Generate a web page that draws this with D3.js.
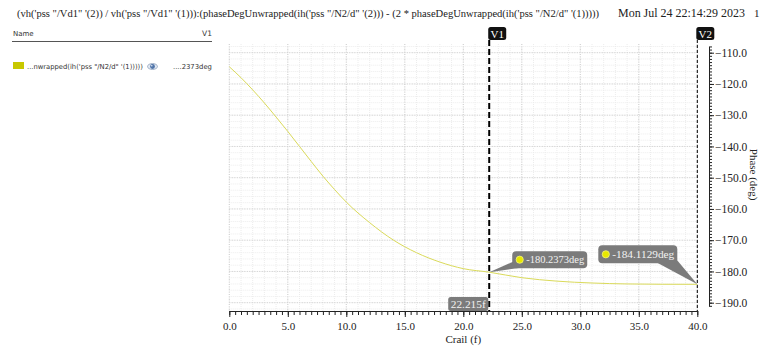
<!DOCTYPE html>
<html>
<head>
<meta charset="utf-8">
<script src="https://cdn.jsdelivr.net/npm/d3@7"></script>
<style>
  html, body { margin: 0; padding: 0; background: #fff; }
  svg { display: block; }
</style>
</head>
<body>
<svg id="chart" width="761" height="347"></svg>
<script>
// Sweep variable (Crail, fF) and the unwrapped phase difference (deg)
const crail = [0, 1, 2, 3, 4, 5, 6, 7, 8, 9, 10, 12, 14, 16, 18, 20, 22.215, 25, 28, 31, 34, 37, 40];
const phase = [-114.5, -118.0, -121.9, -126.1, -130.6, -135.2, -140.0, -144.8, -149.5, -153.8, -157.8,
               -164.4, -169.9, -174.0, -177.0, -179.1, -180.2373, -182.0, -183.1, -183.7, -184.0, -184.1, -184.1129];

// Vertical cursors and their readouts
const cursorNames = ["V1", "V2"];
const cursorX = [22.215, 40];
const cursorReadouts = ["-180.2373deg", "-184.1129deg"];
const cursorXLabel = "22.215f";

// Axis ticks
const xMajorTicks = [0, 5, 10, 15, 20, 25, 30, 35, 40];
const yMajorTicks = [-110, -120, -130, -140, -150, -160, -170, -180, -190];

// Header, legend and axis texts
const titleText = "(vh('pss \"/Vd1\" '(2)) / vh('pss \"/Vd1\" '(1))):(phaseDegUnwrapped(ih('pss \"/N2/d\" '(2))) - (2 * phaseDegUnwrapped(ih('pss \"/N2/d\" '(1)))))";
const dateText = "Mon Jul 24 22:14:29 2023";
const legendName = "...nwrapped(ih('pss \"/N2/d\" '(1)))))";
const legendValue = "....2373deg";
const xTitle = "Crail (f)";
const yTitle = "Phase (deg)";

const traceColor = "#dada5a";
const swatchColor = "#c8c800";
const serif = "'Liberation Serif', 'DejaVu Serif', serif";
const sans = "'DejaVu Sans', 'Liberation Sans', sans-serif";

const svg = d3.select("#chart");

// Plot frame
const plotLeft = 229.3, plotRight = 697.3, plotTop = 44, plotBottom = 311;
const x = d3.scaleLinear().domain([0, 40]).range([plotLeft, plotRight]);
const y = d3.scaleLinear().domain([-110, -190]).range([52.7, 302.7]);
const yBotVal = y.invert(plotBottom);

// Fit a text element to a given width by scaling its font size
function fitWidth(sel, width) {
  const w = sel.node().getComputedTextLength();
  const fs = parseFloat(sel.attr("font-size"));
  sel.attr("font-size", (fs * width / w).toFixed(2));
}

// Header
const title = svg.append("text").attr("x", 17).attr("y", 17)
  .attr("font-family", serif).attr("font-size", 11).attr("fill", "#222").text(titleText);
fitWidth(title, 583);
const date = svg.append("text").attr("x", 618).attr("y", 17)
  .attr("font-family", serif).attr("font-size", 11).attr("fill", "#222").text(dateText);
fitWidth(date, 127);
svg.append("text").attr("x", 754).attr("y", 17)
  .attr("font-family", serif).attr("font-size", 11).attr("fill", "#222").text("1");

// Legend panel
svg.append("text").attr("x", 13).attr("y", 36).attr("font-family", sans)
  .attr("font-size", 7).attr("fill", "#333").text("Name");
svg.append("text").attr("x", 212).attr("y", 36).attr("text-anchor", "end").attr("font-family", sans)
  .attr("font-size", 7.5).attr("fill", "#333").text(cursorNames[0]);
svg.append("line").attr("x1", 12).attr("x2", 212).attr("y1", 41.5).attr("y2", 41.5)
  .attr("stroke", "#555").attr("stroke-width", 1);
svg.append("rect").attr("x", 13).attr("y", 62).attr("width", 11).attr("height", 7).attr("fill", swatchColor);
const legName = svg.append("text").attr("x", 27).attr("y", 69).attr("font-family", sans)
  .attr("font-size", 7).attr("fill", "#333").text(legendName);
fitWidth(legName, 116);
// eye icon
const eye = svg.append("g").attr("transform", "translate(152.5,66.5)");
eye.append("ellipse").attr("rx", 5).attr("ry", 3).attr("fill", "#dfe6f0").attr("stroke", "#8fa2bd").attr("stroke-width", 0.8);
eye.append("circle").attr("r", 2.4).attr("fill", "#4f74a8");
eye.append("circle").attr("cx", -0.7).attr("cy", -0.7).attr("r", 0.8).attr("fill", "#e8eef8");
const legVal = svg.append("text").attr("x", 173).attr("y", 69).attr("font-family", sans)
  .attr("font-size", 7).attr("fill", "#333").text(legendValue);
fitWidth(legVal, 39);

// Grid
const grid = svg.append("g");
const xMinor = d3.range(0, 40.001, 1);
const yMinor = d3.range(-108, yBotVal, -2);
grid.selectAll(".xm").data(xMinor).join("line")
  .attr("x1", d => x(d)).attr("x2", d => x(d)).attr("y1", plotTop).attr("y2", plotBottom)
  .attr("stroke", "#ececec").attr("stroke-width", 1).attr("stroke-dasharray", "1,1");
grid.selectAll(".ym").data(yMinor).join("line")
  .attr("x1", plotLeft).attr("x2", plotRight).attr("y1", d => y(d)).attr("y2", d => y(d))
  .attr("stroke", "#ececec").attr("stroke-width", 1).attr("stroke-dasharray", "1,1");
grid.selectAll(".xM").data(xMajorTicks).join("line")
  .attr("x1", d => x(d)).attr("x2", d => x(d)).attr("y1", plotTop).attr("y2", plotBottom)
  .attr("stroke", "#cfcfcf").attr("stroke-width", 1).attr("stroke-dasharray", "1,1.5");
grid.selectAll(".yM").data(yMajorTicks).join("line")
  .attr("x1", plotLeft).attr("x2", plotRight).attr("y1", d => y(d)).attr("y2", d => y(d))
  .attr("stroke", "#cfcfcf").attr("stroke-width", 1).attr("stroke-dasharray", "1,1.5");

// Trace
const pts = crail.map((c, i) => [c, phase[i]]);
svg.append("path").datum(pts)
  .attr("fill", "none").attr("stroke", traceColor).attr("stroke-width", 1)
  .attr("d", d3.line().x(d => x(d[0])).y(d => y(d[1])).curve(d3.curveMonotoneX));

// Bottom axis: minor ticks every 0.5, labelled majors every 5
const fmt = d3.format(".1f");
const xAxisMinor = svg.append("g").attr("transform", `translate(0,${plotBottom})`)
  .call(d3.axisBottom(x).tickValues(d3.range(0, 40.001, 0.5)).tickSize(4).tickFormat("").tickSizeOuter(0));
const xAxisMajor = svg.append("g").attr("transform", `translate(0,${plotBottom})`)
  .call(d3.axisBottom(x).tickValues(xMajorTicks).tickSize(6).tickPadding(5).tickFormat(fmt).tickSizeOuter(0));
xAxisMajor.select(".domain").remove();
[xAxisMinor, xAxisMajor].forEach(g => {
  g.selectAll("line").attr("stroke", "#222");
  g.selectAll(".domain").attr("stroke", "#222");
  g.selectAll("text").attr("font-family", serif).attr("font-size", 11).attr("fill", "#222");
});
svg.append("text").attr("x", x(20)).attr("y", 343).attr("text-anchor", "middle")
  .attr("font-family", serif).attr("font-size", 11).attr("fill", "#222").text(xTitle);

// Right axis: minor ticks every 1 deg, labelled majors every 10
const axisX = 709;
const yAxisScale = y.copy().domain([-108, -191]).range([y(-108), y(-191)]);
const yAxisMinor = svg.append("g").attr("transform", `translate(${axisX},0)`)
  .call(d3.axisRight(yAxisScale).tickValues(d3.range(-108, -191.001, -1)).tickSize(3).tickFormat("").tickSizeOuter(0));
const yAxisMajor = svg.append("g").attr("transform", `translate(${axisX},0)`)
  .call(d3.axisRight(yAxisScale).tickValues(yMajorTicks).tickSize(5).tickPadding(1).tickFormat(fmt).tickSizeOuter(0));
yAxisMajor.select(".domain").remove();
[yAxisMinor, yAxisMajor].forEach(g => {
  g.selectAll("line").attr("stroke", "#222");
  g.selectAll(".domain").attr("stroke", "#222");
  g.selectAll("text").attr("font-family", serif).attr("font-size", 11.5).attr("fill", "#222");
});
svg.append("text").attr("transform", `translate(750,${y(-149)}) rotate(90)`).attr("text-anchor", "middle")
  .attr("font-family", serif).attr("font-size", 11).attr("fill", "#222").text(yTitle);

// Cursors
const cursorStyles = [
  { w: 2, dash: "6,3" },
  { w: 1, dash: "3,2" }
];
cursorX.forEach((cx, i) => {
  svg.append("line").attr("x1", x(cx)).attr("x2", x(cx)).attr("y1", 40).attr("y2", plotBottom)
    .attr("stroke", "#000").attr("stroke-width", cursorStyles[i].w).attr("stroke-dasharray", cursorStyles[i].dash);
  const tag = svg.append("g").attr("transform", `translate(${x(cx) - 1},27)`);
  tag.append("rect").attr("x", 0).attr("y", 0).attr("width", 18).attr("height", 13).attr("rx", 2.5)
    .attr("fill", "#111");
  tag.append("text").attr("x", 9).attr("y", 10.5).attr("text-anchor", "middle")
    .attr("font-family", serif).attr("font-size", 11).attr("fill", "#fff").text(cursorNames[i]);
});

// Readout callouts on the trace at each cursor
const calloutOffsets = [
  { dx: 23, dy: -21, w: 75, h: 17, wedge: [[2, 10], [12, 16]] },
  { dx: -99, dy: -39, w: 79, h: 18, wedge: [[58, 17], [78, 14]] }
];
cursorX.forEach((cx, i) => {
  const px = x(cx), py = y(phase[crail.indexOf(cx)]);
  const o = calloutOffsets[i];
  const bx = px + o.dx, by = py + o.dy;
  svg.append("path")
    .attr("d", `M${bx + o.wedge[0][0]},${by + o.wedge[0][1]} L${px},${py} L${bx + o.wedge[1][0]},${by + o.wedge[1][1]} Z`)
    .attr("fill", "#7b7b7b");
  svg.append("rect").attr("x", bx).attr("y", by).attr("width", o.w).attr("height", o.h).attr("rx", 4)
    .attr("fill", "#7b7b7b");
  svg.append("circle").attr("cx", bx + 7.5).attr("cy", by + o.h / 2).attr("r", 3.6)
    .attr("fill", "#e8e800").attr("stroke", "#f4f47a").attr("stroke-width", 0.8);
  const t = svg.append("text").attr("x", bx + 14).attr("y", by + o.h / 2 + 3.8)
    .attr("font-family", serif).attr("font-size", 11).attr("fill", "#f2f2f2").text(cursorReadouts[i]);
  fitWidth(t, o.w - 17);
});

// Cursor x readout on the bottom axis
const xr = svg.append("g");
xr.append("rect").attr("x", x(cursorX[0]) - 41).attr("y", 297).attr("width", 40).attr("height", 14).attr("rx", 2.5)
  .attr("fill", "#7b7b7b");
const xrt = xr.append("text").attr("x", x(cursorX[0]) - 21).attr("y", 308).attr("text-anchor", "middle")
  .attr("font-family", serif).attr("font-size", 11).attr("fill", "#f2f2f2").text(cursorXLabel);
fitWidth(xrt, 35);
</script>
</body>
</html>
